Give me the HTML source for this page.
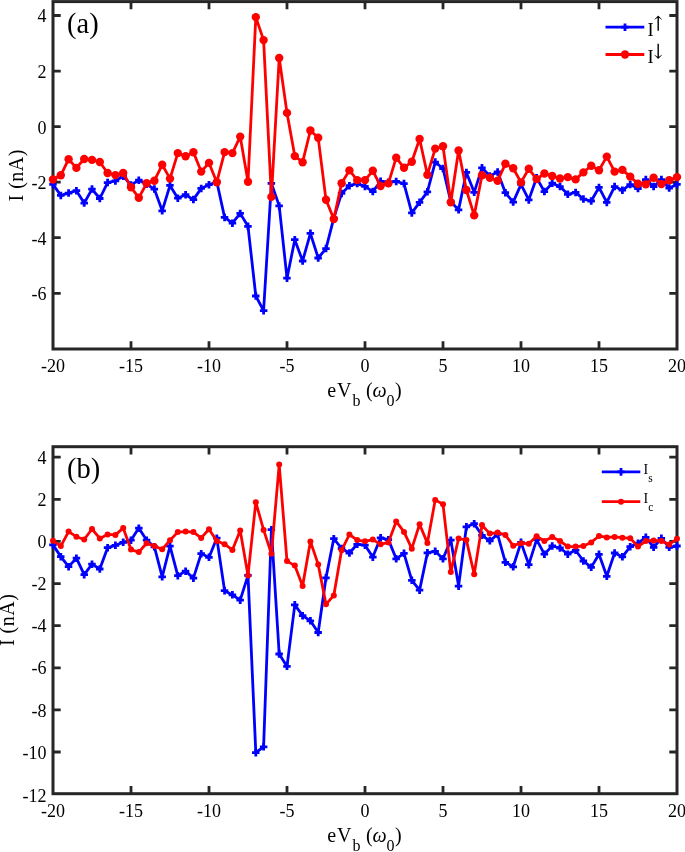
<!DOCTYPE html>
<html><head><meta charset="utf-8"><title>I-V curves</title>
<style>
html,body{margin:0;padding:0;background:#fff;}
body{width:685px;height:852px;overflow:hidden;}
svg{display:block;font-family:"Liberation Serif", "DejaVu Serif", serif;fill:#000;}
text{fill:#000;}
</style></head><body>
<svg width="685" height="852" viewBox="0 0 685 852">
<rect width="685" height="852" fill="#fff"/>

<g id="plot-a">
<path d="M131.0 349.0v-7.7M131.0 1.6v7.7M209.0 349.0v-7.7M209.0 1.6v7.7M287.0 349.0v-7.7M287.0 1.6v7.7M365.0 349.0v-7.7M365.0 1.6v7.7M443.0 349.0v-7.7M443.0 1.6v7.7M521.0 349.0v-7.7M521.0 1.6v7.7M599.0 349.0v-7.7M599.0 1.6v7.7M53.0 15.5h7.7M677.0 15.5h-7.7M53.0 71.1h7.7M677.0 71.1h-7.7M53.0 126.6h7.7M677.0 126.6h-7.7M53.0 182.2h7.7M677.0 182.2h-7.7M53.0 237.7h7.7M677.0 237.7h-7.7M53.0 293.3h7.7M677.0 293.3h-7.7" stroke="#262626" stroke-width="2.8" fill="none"/>
<rect x="53.0" y="1.6" width="624.0" height="347.4" fill="none" stroke="#262626" stroke-width="3.0"/>
<text x="53.0" y="371.8" text-anchor="middle" font-size="18">-20</text>
<text x="131.0" y="371.8" text-anchor="middle" font-size="18">-15</text>
<text x="209.0" y="371.8" text-anchor="middle" font-size="18">-10</text>
<text x="287.0" y="371.8" text-anchor="middle" font-size="18">-5</text>
<text x="365.0" y="371.8" text-anchor="middle" font-size="18">0</text>
<text x="443.0" y="371.8" text-anchor="middle" font-size="18">5</text>
<text x="521.0" y="371.8" text-anchor="middle" font-size="18">10</text>
<text x="599.0" y="371.8" text-anchor="middle" font-size="18">15</text>
<text x="677.0" y="371.8" text-anchor="middle" font-size="18">20</text>
<text x="46.5" y="22.4" text-anchor="end" font-size="18">4</text>
<text x="46.5" y="78.0" text-anchor="end" font-size="18">2</text>
<text x="46.5" y="133.5" text-anchor="end" font-size="18">0</text>
<text x="46.5" y="189.1" text-anchor="end" font-size="18">-2</text>
<text x="46.5" y="244.6" text-anchor="end" font-size="18">-4</text>
<text x="46.5" y="300.2" text-anchor="end" font-size="18">-6</text>
<g class="series">
<polyline points="53.0,184.4 60.8,195.4 68.6,193.1 76.4,190.7 84.2,203.1 92.0,189.1 99.8,198.5 107.6,182.6 115.4,180.9 123.2,176.3 131.0,184.9 138.8,180.2 146.6,184.2 154.4,189.1 162.2,210.8 170.0,185.4 177.8,198.2 185.6,194.7 193.4,199.6 201.2,188.4 209.0,184.7 216.8,181.7 224.6,217.4 232.4,223.2 240.2,213.4 248.0,226.3 255.8,296.0 263.6,310.6 271.4,183.3 279.2,205.9 287.0,278.2 294.8,239.7 302.6,261.0 310.4,233.3 318.2,258.0 326.0,248.6 333.8,218.1 341.6,193.4 349.4,185.7 357.2,183.6 365.0,186.4 372.8,191.6 380.6,181.3 388.4,182.2 396.2,181.5 404.0,183.6 411.8,212.9 419.6,202.3 427.4,191.8 435.2,162.1 443.0,168.5 450.8,201.8 458.6,209.8 466.4,172.4 474.2,192.3 482.0,167.8 489.8,175.9 497.6,172.0 505.4,192.7 513.2,202.1 521.0,184.4 528.8,199.9 536.6,177.7 544.4,191.6 552.2,183.2 560.0,186.6 567.8,194.3 575.6,192.4 583.4,199.1 591.2,201.0 599.0,187.4 606.8,202.4 614.6,186.6 622.4,190.2 630.2,184.6 638.0,188.5 645.8,179.6 653.6,186.6 661.4,179.6 669.2,188.0 677.0,184.4" fill="none" stroke="#0000ff" stroke-width="2.8" stroke-linejoin="round" stroke-linecap="butt"/>
<path d="M49.2 184.4h7.5M53.0 180.7v7.5M57.0 195.4h7.5M60.8 191.7v7.5M64.8 193.1h7.5M68.6 189.3v7.5M72.7 190.7h7.5M76.4 186.9v7.5M80.5 203.1h7.5M84.2 199.3v7.5M88.2 189.1h7.5M92.0 185.3v7.5M96.0 198.5h7.5M99.8 194.8v7.5M103.8 182.6h7.5M107.6 178.8v7.5M111.7 180.9h7.5M115.4 177.2v7.5M119.5 176.3h7.5M123.2 172.6v7.5M127.2 184.9h7.5M131.0 181.2v7.5M135.1 180.2h7.5M138.8 176.4v7.5M142.8 184.2h7.5M146.6 180.4v7.5M150.6 189.1h7.5M154.4 185.3v7.5M158.4 210.8h7.5M162.2 207.1v7.5M166.2 185.4h7.5M170.0 181.7v7.5M174.1 198.2h7.5M177.8 194.4v7.5M181.8 194.7h7.5M185.6 190.9v7.5M189.7 199.6h7.5M193.4 195.8v7.5M197.4 188.4h7.5M201.2 184.7v7.5M205.2 184.7h7.5M209.0 180.9v7.5M213.0 181.7h7.5M216.8 177.9v7.5M220.8 217.4h7.5M224.6 213.7v7.5M228.7 223.2h7.5M232.4 219.4v7.5M236.4 213.4h7.5M240.2 209.7v7.5M244.2 226.3h7.5M248.0 222.6v7.5M252.0 296.0h7.5M255.8 292.2v7.5M259.9 310.6h7.5M263.6 306.9v7.5M267.6 183.3h7.5M271.4 179.6v7.5M275.4 205.9h7.5M279.2 202.2v7.5M283.2 278.2h7.5M287.0 274.4v7.5M291.0 239.7h7.5M294.8 235.9v7.5M298.9 261.0h7.5M302.6 257.2v7.5M306.6 233.3h7.5M310.4 229.6v7.5M314.4 258.0h7.5M318.2 254.2v7.5M322.2 248.6h7.5M326.0 244.8v7.5M330.1 218.1h7.5M333.8 214.3v7.5M337.8 193.4h7.5M341.6 189.7v7.5M345.6 185.7h7.5M349.4 181.9v7.5M353.4 183.6h7.5M357.2 179.8v7.5M361.2 186.4h7.5M365.0 182.7v7.5M369.1 191.6h7.5M372.8 187.8v7.5M376.8 181.3h7.5M380.6 177.6v7.5M384.6 182.2h7.5M388.4 178.4v7.5M392.4 181.5h7.5M396.2 177.8v7.5M400.2 183.6h7.5M404.0 179.8v7.5M408.1 212.9h7.5M411.8 209.2v7.5M415.8 202.3h7.5M419.6 198.6v7.5M423.6 191.8h7.5M427.4 188.1v7.5M431.4 162.1h7.5M435.2 158.3v7.5M439.2 168.5h7.5M443.0 164.8v7.5M447.1 201.8h7.5M450.8 198.1v7.5M454.8 209.8h7.5M458.6 206.1v7.5M462.6 172.4h7.5M466.4 168.7v7.5M470.4 192.3h7.5M474.2 188.6v7.5M478.2 167.8h7.5M482.0 164.1v7.5M486.1 175.9h7.5M489.8 172.2v7.5M493.8 172.0h7.5M497.6 168.2v7.5M501.6 192.7h7.5M505.4 188.9v7.5M509.5 202.1h7.5M513.2 198.3v7.5M517.2 184.4h7.5M521.0 180.7v7.5M525.0 199.9h7.5M528.8 196.2v7.5M532.8 177.7h7.5M536.6 173.9v7.5M540.6 191.6h7.5M544.4 187.8v7.5M548.5 183.2h7.5M552.2 179.4v7.5M556.2 186.6h7.5M560.0 182.8v7.5M564.0 194.3h7.5M567.8 190.6v7.5M571.9 192.4h7.5M575.6 188.7v7.5M579.6 199.1h7.5M583.4 195.3v7.5M587.4 201.0h7.5M591.2 197.2v7.5M595.2 187.4h7.5M599.0 183.7v7.5M603.0 202.4h7.5M606.8 198.7v7.5M610.9 186.6h7.5M614.6 182.8v7.5M618.6 190.2h7.5M622.4 186.4v7.5M626.4 184.6h7.5M630.2 180.8v7.5M634.2 188.5h7.5M638.0 184.8v7.5M642.0 179.6h7.5M645.8 175.8v7.5M649.9 186.6h7.5M653.6 182.8v7.5M657.6 179.6h7.5M661.4 175.8v7.5M665.4 188.0h7.5M669.2 184.2v7.5M673.2 184.4h7.5M677.0 180.7v7.5" stroke="#0000ff" stroke-width="2.8" fill="none"/>
<polyline points="53.0,179.5 60.8,175.3 68.6,159.2 76.4,167.9 84.2,159.0 92.0,159.9 99.8,162.0 107.6,173.0 115.4,175.1 123.2,173.0 131.0,187.2 138.8,197.8 146.6,183.3 154.4,180.7 162.2,164.8 170.0,178.6 177.8,153.1 185.6,156.2 193.4,152.2 201.2,171.6 209.0,162.9 216.8,182.2 224.6,152.1 232.4,153.1 240.2,136.6 248.0,181.7 255.8,17.1 263.6,40.1 271.4,196.9 279.2,58.0 287.0,112.9 294.8,156.1 302.6,162.2 310.4,130.5 318.2,137.8 326.0,199.8 333.8,219.0 341.6,183.3 349.4,170.4 357.2,180.1 365.0,180.1 372.8,170.8 380.6,186.0 388.4,183.4 396.2,157.7 404.0,167.8 411.8,161.7 419.6,139.0 427.4,174.8 435.2,148.6 443.0,146.3 450.8,202.3 458.6,150.5 466.4,190.0 474.2,215.4 482.0,175.2 489.8,177.8 497.6,180.8 505.4,163.8 513.2,168.3 521.0,182.4 528.8,168.8 536.6,179.1 544.4,173.5 552.2,176.0 560.0,178.5 567.8,177.1 575.6,179.4 583.4,172.4 591.2,165.8 599.0,170.2 606.8,156.6 614.6,171.6 622.4,169.9 630.2,176.6 638.0,183.8 645.8,184.4 653.6,177.7 661.4,184.1 669.2,180.2 677.0,177.1" fill="none" stroke="#ff0000" stroke-width="2.8" stroke-linejoin="round" stroke-linecap="butt"/>
<g fill="#ff0000"><circle cx="53.0" cy="179.5" r="4.2"/><circle cx="60.8" cy="175.3" r="4.2"/><circle cx="68.6" cy="159.2" r="4.2"/><circle cx="76.4" cy="167.9" r="4.2"/><circle cx="84.2" cy="159.0" r="4.2"/><circle cx="92.0" cy="159.9" r="4.2"/><circle cx="99.8" cy="162.0" r="4.2"/><circle cx="107.6" cy="173.0" r="4.2"/><circle cx="115.4" cy="175.1" r="4.2"/><circle cx="123.2" cy="173.0" r="4.2"/><circle cx="131.0" cy="187.2" r="4.2"/><circle cx="138.8" cy="197.8" r="4.2"/><circle cx="146.6" cy="183.3" r="4.2"/><circle cx="154.4" cy="180.7" r="4.2"/><circle cx="162.2" cy="164.8" r="4.2"/><circle cx="170.0" cy="178.6" r="4.2"/><circle cx="177.8" cy="153.1" r="4.2"/><circle cx="185.6" cy="156.2" r="4.2"/><circle cx="193.4" cy="152.2" r="4.2"/><circle cx="201.2" cy="171.6" r="4.2"/><circle cx="209.0" cy="162.9" r="4.2"/><circle cx="216.8" cy="182.2" r="4.2"/><circle cx="224.6" cy="152.1" r="4.2"/><circle cx="232.4" cy="153.1" r="4.2"/><circle cx="240.2" cy="136.6" r="4.2"/><circle cx="248.0" cy="181.7" r="4.2"/><circle cx="255.8" cy="17.1" r="4.2"/><circle cx="263.6" cy="40.1" r="4.2"/><circle cx="271.4" cy="196.9" r="4.2"/><circle cx="279.2" cy="58.0" r="4.2"/><circle cx="287.0" cy="112.9" r="4.2"/><circle cx="294.8" cy="156.1" r="4.2"/><circle cx="302.6" cy="162.2" r="4.2"/><circle cx="310.4" cy="130.5" r="4.2"/><circle cx="318.2" cy="137.8" r="4.2"/><circle cx="326.0" cy="199.8" r="4.2"/><circle cx="333.8" cy="219.0" r="4.2"/><circle cx="341.6" cy="183.3" r="4.2"/><circle cx="349.4" cy="170.4" r="4.2"/><circle cx="357.2" cy="180.1" r="4.2"/><circle cx="365.0" cy="180.1" r="4.2"/><circle cx="372.8" cy="170.8" r="4.2"/><circle cx="380.6" cy="186.0" r="4.2"/><circle cx="388.4" cy="183.4" r="4.2"/><circle cx="396.2" cy="157.7" r="4.2"/><circle cx="404.0" cy="167.8" r="4.2"/><circle cx="411.8" cy="161.7" r="4.2"/><circle cx="419.6" cy="139.0" r="4.2"/><circle cx="427.4" cy="174.8" r="4.2"/><circle cx="435.2" cy="148.6" r="4.2"/><circle cx="443.0" cy="146.3" r="4.2"/><circle cx="450.8" cy="202.3" r="4.2"/><circle cx="458.6" cy="150.5" r="4.2"/><circle cx="466.4" cy="190.0" r="4.2"/><circle cx="474.2" cy="215.4" r="4.2"/><circle cx="482.0" cy="175.2" r="4.2"/><circle cx="489.8" cy="177.8" r="4.2"/><circle cx="497.6" cy="180.8" r="4.2"/><circle cx="505.4" cy="163.8" r="4.2"/><circle cx="513.2" cy="168.3" r="4.2"/><circle cx="521.0" cy="182.4" r="4.2"/><circle cx="528.8" cy="168.8" r="4.2"/><circle cx="536.6" cy="179.1" r="4.2"/><circle cx="544.4" cy="173.5" r="4.2"/><circle cx="552.2" cy="176.0" r="4.2"/><circle cx="560.0" cy="178.5" r="4.2"/><circle cx="567.8" cy="177.1" r="4.2"/><circle cx="575.6" cy="179.4" r="4.2"/><circle cx="583.4" cy="172.4" r="4.2"/><circle cx="591.2" cy="165.8" r="4.2"/><circle cx="599.0" cy="170.2" r="4.2"/><circle cx="606.8" cy="156.6" r="4.2"/><circle cx="614.6" cy="171.6" r="4.2"/><circle cx="622.4" cy="169.9" r="4.2"/><circle cx="630.2" cy="176.6" r="4.2"/><circle cx="638.0" cy="183.8" r="4.2"/><circle cx="645.8" cy="184.4" r="4.2"/><circle cx="653.6" cy="177.7" r="4.2"/><circle cx="661.4" cy="184.1" r="4.2"/><circle cx="669.2" cy="180.2" r="4.2"/><circle cx="677.0" cy="177.1" r="4.2"/></g>
</g>
<text x="67" y="32.8" font-size="28.5">(a)</text>
<text transform="translate(23.2,175.3) rotate(-90)" text-anchor="middle" font-size="20" letter-spacing="0.5">I (nA)</text>
<text font-size="20" y="396.5"><tspan x="327.3">e</tspan><tspan x="336.9">V</tspan><tspan x="352.6" y="406.2" font-size="16">b</tspan><tspan x="366.0" y="396.5">(</tspan><tspan x="372.6" y="396.5" font-style="italic">ω</tspan><tspan x="386.6" y="406.2" font-size="16">0</tspan><tspan x="395.0" y="396.5">)</tspan></text>
<g id="legend-a">
<path d="M605.5 27.2H644.3" stroke="#0000ff" stroke-width="2.8"/>
<path d="M621.2 27.2h7.5M625 23.4v7.6" stroke="#0000ff" stroke-width="2.8"/>
<path d="M605.5 54.5H644.3" stroke="#ff0000" stroke-width="2.8"/>
<circle cx="625" cy="54.5" r="4.2" fill="#ff0000"/>
<text x="647.5" y="35.5" font-size="18.5">I<tspan x="653" y="27.5" font-size="18" font-family="&quot;DejaVu Math TeX Gyre&quot;, &quot;DejaVu Serif&quot;, serif">↑</tspan></text>
<text x="647.5" y="63.2" font-size="18.5">I<tspan x="653" y="55.8" font-size="18" font-family="&quot;DejaVu Math TeX Gyre&quot;, &quot;DejaVu Serif&quot;, serif">↓</tspan></text>
</g>
</g>
<g id="plot-b">
<path d="M131.0 793.7v-7.7M131.0 446.7v7.7M209.0 793.7v-7.7M209.0 446.7v7.7M287.0 793.7v-7.7M287.0 446.7v7.7M365.0 793.7v-7.7M365.0 446.7v7.7M443.0 793.7v-7.7M443.0 446.7v7.7M521.0 793.7v-7.7M521.0 446.7v7.7M599.0 793.7v-7.7M599.0 446.7v7.7M53.0 457.2h7.7M677.0 457.2h-7.7M53.0 499.3h7.7M677.0 499.3h-7.7M53.0 541.4h7.7M677.0 541.4h-7.7M53.0 583.6h7.7M677.0 583.6h-7.7M53.0 625.7h7.7M677.0 625.7h-7.7M53.0 667.8h7.7M677.0 667.8h-7.7M53.0 709.9h7.7M677.0 709.9h-7.7M53.0 752.0h7.7M677.0 752.0h-7.7" stroke="#262626" stroke-width="2.8" fill="none"/>
<rect x="53.0" y="446.7" width="624.0" height="347.00000000000006" fill="none" stroke="#262626" stroke-width="3.0"/>
<text x="53.0" y="816.5" text-anchor="middle" font-size="18">-20</text>
<text x="131.0" y="816.5" text-anchor="middle" font-size="18">-15</text>
<text x="209.0" y="816.5" text-anchor="middle" font-size="18">-10</text>
<text x="287.0" y="816.5" text-anchor="middle" font-size="18">-5</text>
<text x="365.0" y="816.5" text-anchor="middle" font-size="18">0</text>
<text x="443.0" y="816.5" text-anchor="middle" font-size="18">5</text>
<text x="521.0" y="816.5" text-anchor="middle" font-size="18">10</text>
<text x="599.0" y="816.5" text-anchor="middle" font-size="18">15</text>
<text x="677.0" y="816.5" text-anchor="middle" font-size="18">20</text>
<text x="46.5" y="463.8" text-anchor="end" font-size="18">4</text>
<text x="46.5" y="505.9" text-anchor="end" font-size="18">2</text>
<text x="46.5" y="548.0" text-anchor="end" font-size="18">0</text>
<text x="46.5" y="590.2" text-anchor="end" font-size="18">-2</text>
<text x="46.5" y="632.3" text-anchor="end" font-size="18">-4</text>
<text x="46.5" y="674.4" text-anchor="end" font-size="18">-6</text>
<text x="46.5" y="716.5" text-anchor="end" font-size="18">-8</text>
<text x="46.5" y="758.6" text-anchor="end" font-size="18">-10</text>
<text x="46.5" y="801.8" text-anchor="end" font-size="18">-12</text>
<g class="series">
<polyline points="53.0,544.9 60.8,556.6 68.6,566.6 76.4,558.2 84.2,574.6 92.0,564.1 99.8,569.0 107.6,547.7 115.4,545.4 123.2,542.3 131.0,540.2 138.8,528.1 146.6,540.2 154.4,546.8 162.2,576.9 170.0,546.1 177.8,575.7 185.6,571.1 193.4,578.1 201.2,553.6 209.0,557.4 216.8,538.1 224.6,590.7 232.4,594.9 240.2,600.1 248.0,575.4 255.8,752.6 263.6,746.9 271.4,529.7 279.2,654.0 287.0,666.4 294.8,604.9 302.6,615.6 310.4,620.8 318.2,632.5 326.0,577.8 333.8,538.6 341.6,548.5 349.4,553.0 357.2,544.3 365.0,545.2 372.8,557.1 380.6,537.8 388.4,539.6 396.2,558.8 404.0,553.4 411.8,580.3 419.6,590.1 427.4,552.9 435.2,551.3 443.0,558.8 450.8,540.1 458.6,586.1 466.4,526.8 474.2,523.7 482.0,535.4 489.8,540.8 497.6,534.3 505.4,562.4 513.2,566.8 521.0,542.4 528.8,564.6 536.6,539.6 544.4,554.1 552.2,546.0 560.0,548.0 567.8,554.1 575.6,550.2 583.4,561.0 591.2,567.4 599.0,554.3 606.8,576.3 614.6,553.0 622.4,556.8 630.2,546.6 638.0,543.2 645.8,537.4 653.6,547.4 661.4,538.3 669.2,547.4 677.0,546.0" fill="none" stroke="#0000ff" stroke-width="2.8" stroke-linejoin="round" stroke-linecap="butt"/>
<path d="M49.2 544.9h7.5M53.0 541.1v7.5M57.0 556.6h7.5M60.8 552.9v7.5M64.8 566.6h7.5M68.6 562.9v7.5M72.7 558.2h7.5M76.4 554.5v7.5M80.5 574.6h7.5M84.2 570.9v7.5M88.2 564.1h7.5M92.0 560.4v7.5M96.0 569.0h7.5M99.8 565.2v7.5M103.8 547.7h7.5M107.6 544.0v7.5M111.7 545.4h7.5M115.4 541.6v7.5M119.5 542.3h7.5M123.2 538.5v7.5M127.2 540.2h7.5M131.0 536.5v7.5M135.1 528.1h7.5M138.8 524.4v7.5M142.8 540.2h7.5M146.6 536.5v7.5M150.6 546.8h7.5M154.4 543.0v7.5M158.4 576.9h7.5M162.2 573.1v7.5M166.2 546.1h7.5M170.0 542.4v7.5M174.1 575.7h7.5M177.8 572.0v7.5M181.8 571.1h7.5M185.6 567.4v7.5M189.7 578.1h7.5M193.4 574.4v7.5M197.4 553.6h7.5M201.2 549.9v7.5M205.2 557.4h7.5M209.0 553.6v7.5M213.0 538.1h7.5M216.8 534.4v7.5M220.8 590.7h7.5M224.6 587.0v7.5M228.7 594.9h7.5M232.4 591.1v7.5M236.4 600.1h7.5M240.2 596.4v7.5M244.2 575.4h7.5M248.0 571.6v7.5M252.0 752.6h7.5M255.8 748.9v7.5M259.9 746.9h7.5M263.6 743.1v7.5M267.6 529.7h7.5M271.4 526.0v7.5M275.4 654.0h7.5M279.2 650.2v7.5M283.2 666.4h7.5M287.0 662.6v7.5M291.0 604.9h7.5M294.8 601.1v7.5M298.9 615.6h7.5M302.6 611.9v7.5M306.6 620.8h7.5M310.4 617.0v7.5M314.4 632.5h7.5M318.2 628.8v7.5M322.2 577.8h7.5M326.0 574.0v7.5M330.1 538.6h7.5M333.8 534.9v7.5M337.8 548.5h7.5M341.6 544.8v7.5M345.6 553.0h7.5M349.4 549.2v7.5M353.4 544.3h7.5M357.2 540.5v7.5M361.2 545.2h7.5M365.0 541.5v7.5M369.1 557.1h7.5M372.8 553.4v7.5M376.8 537.8h7.5M380.6 534.0v7.5M384.6 539.6h7.5M388.4 535.9v7.5M392.4 558.8h7.5M396.2 555.0v7.5M400.2 553.4h7.5M404.0 549.6v7.5M408.1 580.3h7.5M411.8 576.5v7.5M415.8 590.1h7.5M419.6 586.4v7.5M423.6 552.9h7.5M427.4 549.1v7.5M431.4 551.3h7.5M435.2 547.5v7.5M439.2 558.8h7.5M443.0 555.0v7.5M447.1 540.1h7.5M450.8 536.4v7.5M454.8 586.1h7.5M458.6 582.4v7.5M462.6 526.8h7.5M466.4 523.0v7.5M470.4 523.7h7.5M474.2 520.0v7.5M478.2 535.4h7.5M482.0 531.6v7.5M486.1 540.8h7.5M489.8 537.0v7.5M493.8 534.3h7.5M497.6 530.5v7.5M501.6 562.4h7.5M505.4 558.6v7.5M509.5 566.8h7.5M513.2 563.0v7.5M517.2 542.4h7.5M521.0 538.6v7.5M525.0 564.6h7.5M528.8 560.9v7.5M532.8 539.6h7.5M536.6 535.9v7.5M540.6 554.1h7.5M544.4 550.4v7.5M548.5 546.0h7.5M552.2 542.2v7.5M556.2 548.0h7.5M560.0 544.2v7.5M564.0 554.1h7.5M567.8 550.4v7.5M571.9 550.2h7.5M575.6 546.5v7.5M579.6 561.0h7.5M583.4 557.2v7.5M587.4 567.4h7.5M591.2 563.6v7.5M595.2 554.3h7.5M599.0 550.5v7.5M603.0 576.3h7.5M606.8 572.5v7.5M610.9 553.0h7.5M614.6 549.2v7.5M618.6 556.8h7.5M622.4 553.0v7.5M626.4 546.6h7.5M630.2 542.9v7.5M634.2 543.2h7.5M638.0 539.5v7.5M642.0 537.4h7.5M645.8 533.6v7.5M649.9 547.4h7.5M653.6 543.6v7.5M657.6 538.3h7.5M661.4 534.5v7.5M665.4 547.4h7.5M669.2 543.6v7.5M673.2 546.0h7.5M677.0 542.2v7.5" stroke="#0000ff" stroke-width="2.8" fill="none"/>
<polyline points="53.0,540.7 60.8,546.1 68.6,531.6 76.4,536.7 84.2,539.5 92.0,529.0 99.8,538.4 107.6,534.4 115.4,534.9 123.2,528.1 131.0,549.6 138.8,552.1 146.6,543.3 154.4,546.1 162.2,549.3 170.0,540.2 177.8,532.1 185.6,531.6 193.4,532.1 201.2,537.9 209.0,529.2 216.8,540.9 224.6,544.2 232.4,549.9 240.2,530.4 248.0,575.4 255.8,502.2 263.6,529.9 271.4,553.8 279.2,464.6 287.0,561.1 294.8,565.6 302.6,586.0 310.4,541.4 318.2,564.4 326.0,604.3 333.8,595.4 341.6,550.3 349.4,534.5 357.2,540.1 365.0,541.3 372.8,539.6 380.6,544.3 388.4,542.4 396.2,521.4 404.0,531.9 411.8,548.7 419.6,524.2 427.4,543.1 435.2,499.9 443.0,504.3 450.8,572.1 458.6,538.5 466.4,540.1 474.2,574.2 482.0,525.1 489.8,533.6 497.6,532.6 505.4,534.9 513.2,545.7 521.0,543.2 528.8,543.8 536.6,536.3 544.4,541.0 552.2,536.9 560.0,541.0 567.8,546.6 575.6,546.6 583.4,546.0 591.2,542.4 599.0,536.0 606.8,537.4 614.6,536.9 622.4,537.7 630.2,538.3 638.0,546.6 645.8,541.0 653.6,540.5 661.4,541.0 669.2,544.4 677.0,538.8" fill="none" stroke="#ff0000" stroke-width="2.8" stroke-linejoin="round" stroke-linecap="butt"/>
<g fill="#ff0000"><circle cx="53.0" cy="540.7" r="3.0"/><circle cx="60.8" cy="546.1" r="3.0"/><circle cx="68.6" cy="531.6" r="3.0"/><circle cx="76.4" cy="536.7" r="3.0"/><circle cx="84.2" cy="539.5" r="3.0"/><circle cx="92.0" cy="529.0" r="3.0"/><circle cx="99.8" cy="538.4" r="3.0"/><circle cx="107.6" cy="534.4" r="3.0"/><circle cx="115.4" cy="534.9" r="3.0"/><circle cx="123.2" cy="528.1" r="3.0"/><circle cx="131.0" cy="549.6" r="3.0"/><circle cx="138.8" cy="552.1" r="3.0"/><circle cx="146.6" cy="543.3" r="3.0"/><circle cx="154.4" cy="546.1" r="3.0"/><circle cx="162.2" cy="549.3" r="3.0"/><circle cx="170.0" cy="540.2" r="3.0"/><circle cx="177.8" cy="532.1" r="3.0"/><circle cx="185.6" cy="531.6" r="3.0"/><circle cx="193.4" cy="532.1" r="3.0"/><circle cx="201.2" cy="537.9" r="3.0"/><circle cx="209.0" cy="529.2" r="3.0"/><circle cx="216.8" cy="540.9" r="3.0"/><circle cx="224.6" cy="544.2" r="3.0"/><circle cx="232.4" cy="549.9" r="3.0"/><circle cx="240.2" cy="530.4" r="3.0"/><circle cx="248.0" cy="575.4" r="3.0"/><circle cx="255.8" cy="502.2" r="3.0"/><circle cx="263.6" cy="529.9" r="3.0"/><circle cx="271.4" cy="553.8" r="3.0"/><circle cx="279.2" cy="464.6" r="3.0"/><circle cx="287.0" cy="561.1" r="3.0"/><circle cx="294.8" cy="565.6" r="3.0"/><circle cx="302.6" cy="586.0" r="3.0"/><circle cx="310.4" cy="541.4" r="3.0"/><circle cx="318.2" cy="564.4" r="3.0"/><circle cx="326.0" cy="604.3" r="3.0"/><circle cx="333.8" cy="595.4" r="3.0"/><circle cx="341.6" cy="550.3" r="3.0"/><circle cx="349.4" cy="534.5" r="3.0"/><circle cx="357.2" cy="540.1" r="3.0"/><circle cx="365.0" cy="541.3" r="3.0"/><circle cx="372.8" cy="539.6" r="3.0"/><circle cx="380.6" cy="544.3" r="3.0"/><circle cx="388.4" cy="542.4" r="3.0"/><circle cx="396.2" cy="521.4" r="3.0"/><circle cx="404.0" cy="531.9" r="3.0"/><circle cx="411.8" cy="548.7" r="3.0"/><circle cx="419.6" cy="524.2" r="3.0"/><circle cx="427.4" cy="543.1" r="3.0"/><circle cx="435.2" cy="499.9" r="3.0"/><circle cx="443.0" cy="504.3" r="3.0"/><circle cx="450.8" cy="572.1" r="3.0"/><circle cx="458.6" cy="538.5" r="3.0"/><circle cx="466.4" cy="540.1" r="3.0"/><circle cx="474.2" cy="574.2" r="3.0"/><circle cx="482.0" cy="525.1" r="3.0"/><circle cx="489.8" cy="533.6" r="3.0"/><circle cx="497.6" cy="532.6" r="3.0"/><circle cx="505.4" cy="534.9" r="3.0"/><circle cx="513.2" cy="545.7" r="3.0"/><circle cx="521.0" cy="543.2" r="3.0"/><circle cx="528.8" cy="543.8" r="3.0"/><circle cx="536.6" cy="536.3" r="3.0"/><circle cx="544.4" cy="541.0" r="3.0"/><circle cx="552.2" cy="536.9" r="3.0"/><circle cx="560.0" cy="541.0" r="3.0"/><circle cx="567.8" cy="546.6" r="3.0"/><circle cx="575.6" cy="546.6" r="3.0"/><circle cx="583.4" cy="546.0" r="3.0"/><circle cx="591.2" cy="542.4" r="3.0"/><circle cx="599.0" cy="536.0" r="3.0"/><circle cx="606.8" cy="537.4" r="3.0"/><circle cx="614.6" cy="536.9" r="3.0"/><circle cx="622.4" cy="537.7" r="3.0"/><circle cx="630.2" cy="538.3" r="3.0"/><circle cx="638.0" cy="546.6" r="3.0"/><circle cx="645.8" cy="541.0" r="3.0"/><circle cx="653.6" cy="540.5" r="3.0"/><circle cx="661.4" cy="541.0" r="3.0"/><circle cx="669.2" cy="544.4" r="3.0"/><circle cx="677.0" cy="538.8" r="3.0"/></g>
</g>
<text x="67" y="478" font-size="28.5">(b)</text>
<text transform="translate(13.8,619.9) rotate(-90)" text-anchor="middle" font-size="20" letter-spacing="0.5">I (nA)</text>
<text font-size="20" y="841.5"><tspan x="327.3">e</tspan><tspan x="336.9">V</tspan><tspan x="352.6" y="851.2" font-size="16">b</tspan><tspan x="366.0" y="841.5">(</tspan><tspan x="372.6" y="841.5" font-style="italic">ω</tspan><tspan x="386.6" y="851.2" font-size="16">0</tspan><tspan x="395.0" y="841.5">)</tspan></text>
<g id="legend-b">
<path d="M601.8 471.9H640.3" stroke="#0000ff" stroke-width="2.8"/>
<path d="M617.2 471.9h7.5M621 468.1v7.6" stroke="#0000ff" stroke-width="2.8"/>
<path d="M601.8 501.7H640.3" stroke="#ff0000" stroke-width="2.8"/>
<circle cx="621" cy="501.7" r="3" fill="#ff0000"/>
<text x="643.5" y="473.6" font-size="14">I<tspan dy="8" font-size="11.5">s</tspan></text>
<text x="643.5" y="503.4" font-size="14">I<tspan dy="8" font-size="11.5">c</tspan></text>
</g>
</g>
</svg></body></html>
